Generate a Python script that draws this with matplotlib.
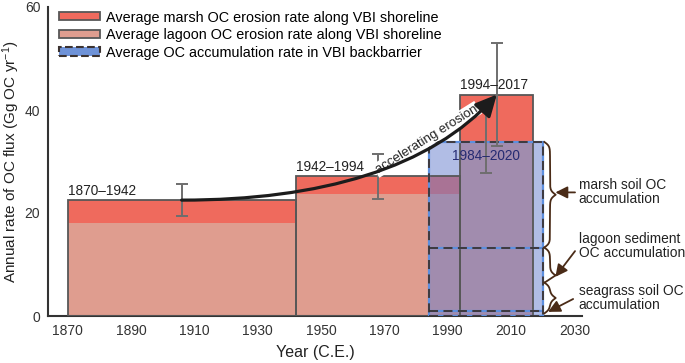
# OC erosion vs accumulation, Virginia Barrier Islands

import numpy as np
import matplotlib.pyplot as plt
from matplotlib.patches import Patch, FancyArrowPatch
from matplotlib.path import Path

plt.rcParams['font.family'] = ['Liberation Sans', 'DejaVu Sans']
plt.rcParams['mathtext.default'] = 'regular'

# erosion periods (shoreline)
periods = ['1870–1942', '1942–1994', '1994–2017']
start_yr = np.array([1870, 1942, 1994])
end_yr = np.array([1942, 1994, 2017])
lagoon_erosion = np.array([18.1, 23.7, 34.0])
marsh_erosion = np.array([4.4, 3.4, 9.0])
erosion_err = [3.15, 4.3, 10.0]

# accumulation in backbarrier
accum_period = '1984–2020'
accum_start, accum_end = 1984, 2020
accum_parts = ['seagrass soil OC\naccumulation', 'lagoon sediment\nOC accumulation', 'marsh soil OC\naccumulation']
accum_values = np.array([1.0, 12.3, 20.5])
accum_err = 6.0

xticks = [1870, 1890, 1910, 1930, 1950, 1970, 1990, 2010, 2030]
yticks = [0, 20, 40, 60]

red = '#ef6a5d'
salmon = '#df9d8f'
blue = '#647dcd'
brown = '#4a2b17'
edge = '#575757'

fig = plt.figure(figsize=(6.85, 3.63), dpi=100)
ax = fig.add_axes([48/685, 47/363, 534/685, 309/363])

widths = end_yr - start_yr
centers = start_yr + widths/2
totals = lagoon_erosion + marsh_erosion

# erosion bars
ax.bar(start_yr, lagoon_erosion, width=widths, align='edge', color=salmon, lw=0, zorder=1)
ax.bar(start_yr, marsh_erosion, bottom=lagoon_erosion, width=widths, align='edge', color=red, lw=0, zorder=1)

# accumulation bar on top (transparent)
accum_bottoms = np.concatenate([[0], np.cumsum(accum_values)[:-1]])
accum_total = accum_values.sum()
accum_w = accum_end - accum_start
accum_center = accum_start + accum_w/2
ax.bar(accum_start, accum_total, width=accum_w, align='edge', color=blue, alpha=0.5, lw=0, zorder=2)

# outlines
ax.bar(start_yr, totals, width=widths, align='edge', fill=False, edgecolor=edge, lw=1.3, zorder=3)
dash = (0, (5, 3))
ax.bar(accum_start, accum_total, width=accum_w, align='edge',
       fill=False, edgecolor='#5d8fdf', lw=1.6, zorder=4)
ax.bar(accum_start, accum_total, width=accum_w, align='edge',
       fill=False, edgecolor='#3b3230', lw=1.3, linestyle=dash, zorder=5)
ax.hlines(accum_bottoms[1:], accum_start, accum_end, colors='#5d8fdf', lw=1.6, zorder=4)
ax.hlines(accum_bottoms[1:], accum_start, accum_end, colors='#3b3230', lw=1.3, linestyles=[dash], zorder=5)

# error bars
ax.errorbar(centers, totals, yerr=erosion_err, fmt='none', ecolor='#6e6e6e',
            elinewidth=1.4, capsize=4, capthick=1.4, zorder=6)
ax.errorbar([accum_center], [accum_total], yerr=accum_err, fmt='none', ecolor='#6e6e6e',
            elinewidth=1.4, capsize=4, capthick=1.4, zorder=6)

# period labels
for s, t, lab in zip(start_yr, totals, periods):
    ax.text(s, t + 0.4, lab, ha='left', va='bottom', fontsize=9.8, color='#222222', zorder=8)
ax.text(accum_center, 31.1, accum_period, ha='center', va='center', fontsize=9.8,
        color='#262b72', zorder=8)

# accelerating erosion arrow
S = (centers[0], totals[0])
E = (centers[2], totals[2])
dx, dy = E[0] - S[0], E[1] - S[1]
C1 = (S[0] + 0.44*dx, S[1])
C2 = (E[0] - 0.21*dx, E[1] - 0.70*dy)
curve = Path([S, C1, C2, E], [Path.MOVETO, Path.CURVE4, Path.CURVE4, Path.CURVE4])
arrow = FancyArrowPatch(path=curve, arrowstyle='-|>,head_length=0.65,head_width=0.32',
                        mutation_scale=20, lw=2.3, color='#1c1c1c', zorder=7)
ax.add_patch(arrow)
ax.text(1983.4, 34.3, 'accelerating erosion', rotation=32, rotation_mode='anchor',
        ha='center', va='center', fontsize=9.5, color='#222222',
        bbox=dict(fc='white', ec='none', pad=1.0), zorder=6.5)


def brace(ax, x0, y_lo, y_hi, w, tip_frac=0.5, k=0.4):
    y_tip = y_hi - tip_frac*(y_hi - y_lo)
    xs, ys = [], []
    for ya, yb in [(y_hi, y_tip), (y_lo, y_tip)]:
        s = np.linspace(0, 1, 120)
        yy = ya + (yb - ya)*s
        L = abs(yb - ya)
        d = np.abs(yy - ya)
        off = 1/(1 + np.exp(-d/k)) + 1/(1 + np.exp(-(d - L)/k)) - 0.5
        off = np.clip(off, 0, 1)
        xs.append(x0 + w*off)
        ys.append(yy)
    xx = np.concatenate([xs[0], xs[1][::-1]])
    yy = np.concatenate([ys[0], ys[1][::-1]])
    ax.plot(xx, yy, color=brown, lw=1.3, clip_on=False, zorder=8)


bx0, bw = accum_end + 0.5, 3.6
brace(ax, bx0, accum_bottoms[2], accum_total, bw, 0.5)
brace(ax, bx0, 6.5, accum_bottoms[2], bw, 0.8)
brace(ax, bx0, 0.5, 6.5, bw, 0.5)

label_y = [3.5, 13.5, 24.0]
arrow_tail = [(2029.6, 3.3), (2030.2, 12.6), (2030.2, 24.0)]
arrow_head = [(2021.7, 0.8), (2024.0, 7.6), (2024.0, 24.0)]
for txt, ly, tail, head in zip(accum_parts, label_y, arrow_tail, arrow_head):
    ax.text(2031.3, ly, txt, ha='left', va='center', fontsize=9.9, color='#222222',
            linespacing=1.0, clip_on=False)
    ax.annotate('', xy=head, xytext=tail, annotation_clip=False,
                arrowprops=dict(arrowstyle='-|>,head_length=0.6,head_width=0.3', color=brown,
                                lw=1.3, mutation_scale=12, shrinkA=0, shrinkB=0))

# axes
ax.set_xlim(1863.8, 2032.4)
ax.set_ylim(0, 60)
ax.set_xticks(xticks)
ax.set_yticks(yticks)
ax.tick_params(length=0, labelsize=10, pad=5.5, colors='#333333')
for side in ['top', 'right']:
    ax.spines[side].set_visible(False)
for side in ['left', 'bottom']:
    ax.spines[side].set_color('#333333')
    ax.spines[side].set_linewidth(1.5)
ax.set_xlabel('Year (C.E.)', fontsize=11.5, color='#222222', labelpad=5)
ax.set_ylabel('Annual rate of OC flux (Gg OC yr$^{-1}$)', fontsize=11, color='#222222', labelpad=2)

handles = [Patch(facecolor=red, edgecolor=edge, lw=1.3),
           Patch(facecolor=salmon, edgecolor=edge, lw=1.3),
           Patch(facecolor='#6f93d8', edgecolor='#3b3230', lw=1.5, linestyle='--')]
labels = ['Average marsh OC erosion rate along VBI shoreline',
          'Average lagoon OC erosion rate along VBI shoreline',
          'Average OC accumulation rate in VBI backbarrier']
ax.legend(handles, labels, loc='upper left', bbox_to_anchor=(0.015, 0.998), frameon=False,
          fontsize=10.4, handlelength=2.85, handleheight=0.5, labelspacing=0.25,
          handletextpad=0.4, borderaxespad=0, borderpad=0.2)

fig.savefig('out.png', dpi=100)
